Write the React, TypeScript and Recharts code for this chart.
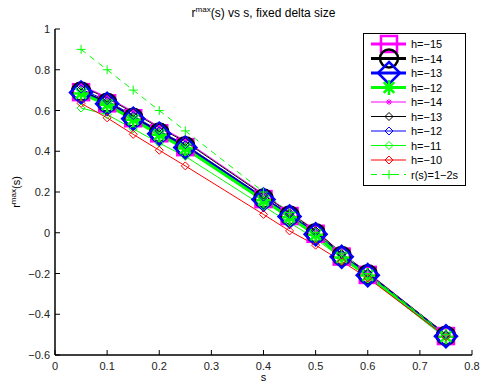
import React from "react";
import { LineChart, Line, XAxis, YAxis } from "recharts";

// s values where r^max was computed
const sValues = [0.05, 0.1, 0.15, 0.2, 0.25, 0.4, 0.45, 0.5, 0.55, 0.6, 0.75];

// big-marker runs
const h15Big = [0.69, 0.635, 0.562, 0.488, 0.42, 0.165, 0.082, -0.005, -0.117, -0.207, -0.507];
const h14Big = [0.693, 0.638, 0.565, 0.492, 0.424, 0.168, 0.085, -0.002, -0.114, -0.204, -0.505];
const h13Big = [0.688, 0.633, 0.56, 0.486, 0.418, 0.163, 0.08, -0.007, -0.118, -0.208, -0.508];
const h12Big = [0.684, 0.628, 0.555, 0.481, 0.413, 0.159, 0.076, -0.01, -0.121, -0.21, -0.51];

// small-marker runs
const h14Small = [0.725, 0.665, 0.595, 0.52, 0.452, 0.19, 0.1, 0.012, -0.1, -0.195, -0.5];
const h13Small = [0.72, 0.66, 0.59, 0.515, 0.447, 0.185, 0.097, 0.01, -0.102, -0.197, -0.5];
const h12Small = [0.705, 0.648, 0.575, 0.5, 0.432, 0.175, 0.09, 0.002, -0.108, -0.2, -0.503];
const h11Small = [0.612, 0.58, 0.51, 0.44, 0.375, 0.13, 0.05, -0.03, -0.125, -0.215, -0.51];
const h10Small = [0.635, 0.564, 0.483, 0.405, 0.328, 0.09, 0.009, -0.061, -0.14, -0.222, -0.51];

// reference line r(s) = 1 - 2s
const linear = [0.9, 0.8, 0.7, 0.6, 0.5, 0.2, 0.1, 0, -0.1, -0.2, -0.5];

const xTicks = [0, 0.1, 0.2, 0.3, 0.4, 0.5, 0.6, 0.7, 0.8];
const yTicks = [-0.6, -0.4, -0.2, 0, 0.2, 0.4, 0.6, 0.8, 1];

const rows = sValues.map((s, i) => ({
  s,
  a: h15Big[i],
  b: h14Big[i],
  c: h13Big[i],
  d: h12Big[i],
  e: h14Small[i],
  f: h13Small[i],
  g: h12Small[i],
  h: h11Small[i],
  k: h10Small[i],
  lin: linear[i],
}));

type Kind = "square" | "circle" | "diamond" | "star" | "plus";

interface Series {
  key: string;
  label: string;
  color: string;
  width: number;
  kind: Kind;
  size: number;
  msw: number;
  dash?: string;
}

const series: Series[] = [
  { key: "a", label: "h=\u221215", color: "#ff00ff", width: 3, kind: "square", size: 16, msw: 2.5 },
  { key: "b", label: "h=\u221214", color: "#000000", width: 3, kind: "circle", size: 18, msw: 2.5 },
  { key: "c", label: "h=\u221213", color: "#0000ff", width: 3, kind: "diamond", size: 22, msw: 2.5 },
  { key: "d", label: "h=\u221212", color: "#00ff00", width: 3, kind: "star", size: 15, msw: 2.5 },
  { key: "e", label: "h=\u221214", color: "#ff00ff", width: 1, kind: "star", size: 6, msw: 1 },
  { key: "f", label: "h=\u221213", color: "#000000", width: 1, kind: "diamond", size: 8, msw: 1 },
  { key: "g", label: "h=\u221212", color: "#0000ff", width: 1, kind: "diamond", size: 8, msw: 1 },
  { key: "h", label: "h=\u221211", color: "#00ff00", width: 1, kind: "diamond", size: 8, msw: 1 },
  { key: "k", label: "h=\u221210", color: "#ff0000", width: 1, kind: "diamond", size: 8, msw: 1 },
  { key: "lin", label: "r(s)=1\u22122s", color: "#00ff00", width: 1, kind: "plus", size: 9, msw: 1, dash: "6 5" },
];

const FONT = "'Liberation Sans', Arial, Helvetica, sans-serif";

function Marker({ kind, cx, cy, size, color, sw }: { kind: Kind; cx: number; cy: number; size: number; color: string; sw: number }) {
  const r = size / 2;
  const common = { fill: "none", stroke: color, strokeWidth: sw };
  if (kind === "square") return <rect x={cx - r} y={cy - r} width={size} height={size} {...common} />;
  if (kind === "circle") return <circle cx={cx} cy={cy} r={r} {...common} />;
  if (kind === "diamond")
    return <path d={`M${cx},${cy - r}L${cx + r},${cy}L${cx},${cy + r}L${cx - r},${cy}Z`} {...common} />;
  const d = r * 0.707;
  const arms =
    kind === "plus"
      ? `M${cx - r},${cy}H${cx + r}M${cx},${cy - r}V${cy + r}`
      : `M${cx - r},${cy}H${cx + r}M${cx},${cy - r}V${cy + r}M${cx - d},${cy - d}L${cx + d},${cy + d}M${cx - d},${cy + d}L${cx + d},${cy - d}`;
  return <path d={arms} {...common} />;
}

const fmt = (v: number) => (v === 0 ? "0" : String(+v.toFixed(1)).replace("-", "\u2212"));

const tickText = { fontFamily: FONT, fontSize: 11, fill: "#222" };

function BottomTick(p: any) {
  const { x, y, payload } = p;
  return (
    <g>
      <line x1={x} x2={x} y1={y} y2={y - 5} stroke="#000" />
      <text x={x} y={y + 15} textAnchor="middle" {...tickText}>
        {fmt(payload.value)}
      </text>
    </g>
  );
}

function TopTick(p: any) {
  const { x, y } = p;
  return <line x1={x} x2={x} y1={y} y2={y + 5} stroke="#000" />;
}

function LeftTick(p: any) {
  const { x, y, payload } = p;
  return (
    <g>
      <line x1={x} x2={x + 5} y1={y} y2={y} stroke="#000" />
      <text x={x - 5} y={y + 4} textAnchor="end" {...tickText}>
        {fmt(payload.value)}
      </text>
    </g>
  );
}

function RightTick(p: any) {
  const { x, y } = p;
  return <line x1={x} x2={x - 5} y1={y} y2={y} stroke="#000" />;
}

function LegendBox() {
  const rowH = 14.5;
  return (
    <svg width={104} height={154} style={{ position: "absolute", left: 363, top: 33 }}>
      <rect x={0.5} y={0.5} width={102} height={152} fill="#fff" stroke="#000" />
      {series.map((s, i) => {
        const cy = 11 + i * rowH;
        return (
          <g key={s.key}>
            <line x1={8} x2={43} y1={cy} y2={cy} stroke={s.color} strokeWidth={s.width} strokeDasharray={s.dash} />
            <Marker kind={s.kind} cx={26} cy={cy} size={s.size} color={s.color} sw={s.msw} />
            <text x={48} y={cy + 4} fontFamily={FONT} fontSize={11} fill="#000">
              {s.label}
            </text>
          </g>
        );
      })}
    </svg>
  );
}

export default function App() {
  const axisLine = { stroke: "#000", strokeWidth: 1.5 };
  return (
    <div style={{ position: "absolute", left: 0, top: 0, width: 481, height: 386, background: "#fff", fontFamily: FONT }}>
      <LineChart width={481} height={386} data={rows} margin={{ top: 29, right: 9, bottom: 0, left: 0 }}>
        <XAxis
          dataKey="s"
          type="number"
          domain={[0, 0.8]}
          ticks={xTicks}
          interval={0}
          height={31}
          tickSize={0}
          tickMargin={0}
          axisLine={axisLine}
          tickLine={false}
          tick={<BottomTick />}
        />
        <XAxis
          xAxisId="top"
          orientation="top"
          dataKey="s"
          type="number"
          domain={[0, 0.8]}
          ticks={xTicks}
          interval={0}
          height={0}
          tickSize={0}
          tickMargin={0}
          axisLine={axisLine}
          tickLine={false}
          tick={<TopTick />}
        />
        <YAxis
          type="number"
          domain={[-0.6, 1]}
          ticks={yTicks}
          interval={0}
          width={55}
          tickSize={0}
          tickMargin={0}
          axisLine={axisLine}
          tickLine={false}
          tick={<LeftTick />}
        />
        <YAxis
          yAxisId="right"
          orientation="right"
          type="number"
          domain={[-0.6, 1]}
          ticks={yTicks}
          interval={0}
          width={0}
          tickSize={0}
          tickMargin={0}
          axisLine={axisLine}
          tickLine={false}
          tick={<RightTick />}
        />
        {series.map((s) => (
          <Line
            key={s.key}
            dataKey={s.key}
            type="linear"
            stroke={s.color}
            strokeWidth={s.width}
            strokeDasharray={s.dash}
            isAnimationActive={false}
            activeDot={false}
            dot={(p: any) => (
              <Marker key={`${s.key}-${p.index}`} kind={s.kind} cx={p.cx} cy={p.cy} size={s.size} color={s.color} sw={s.msw} />
            )}
          />
        ))}
      </LineChart>

      <div style={{ position: "absolute", left: 55, width: 417, top: 5, textAlign: "center", fontSize: 12, lineHeight: "16px", color: "#000" }}>
        r<span style={{ fontSize: 8, position: "relative", top: -5 }}>max</span>(s) vs s, fixed delta size
      </div>
      <div
        style={{
          position: "absolute",
          left: 16,
          top: 192,
          transform: "translate(-50%, -50%) rotate(-90deg)",
          whiteSpace: "nowrap",
          fontSize: 11,
          color: "#000",
        }}
      >
        r<span style={{ fontSize: 8, position: "relative", top: -4 }}>max</span>(s)
      </div>
      <div style={{ position: "absolute", left: 55, width: 417, top: 371, textAlign: "center", fontSize: 11, lineHeight: "13px", color: "#000" }}>
        s
      </div>
      <LegendBox />
    </div>
  );
}
